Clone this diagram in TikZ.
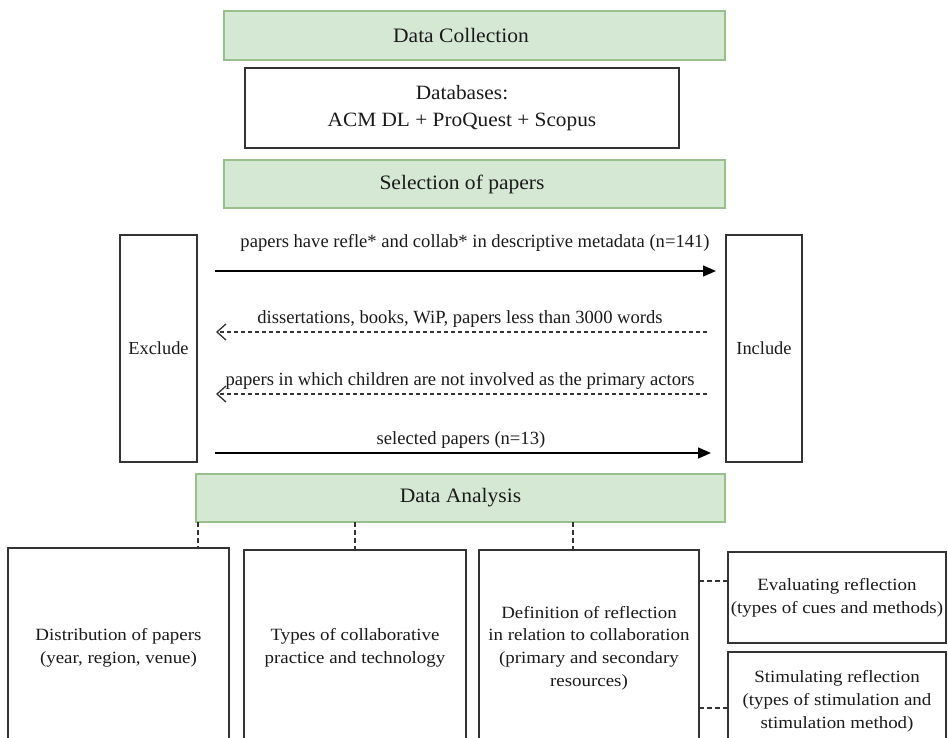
\documentclass[tikz,border=0pt]{standalone}
\usepackage{fontspec}
\setmainfont{Liberation Serif}
\newfontfamily\hdrfont[FakeStretch=1.05]{Liberation Serif}
\newfontfamily\wfont[FakeStretch=1.1]{Liberation Serif}
\usetikzlibrary{arrows.meta}
\definecolor{gfill}{HTML}{D5E8D4}
\definecolor{gline}{HTML}{98C08C}
\definecolor{bline}{HTML}{333333}
\definecolor{txt}{HTML}{1A1A1A}
\begin{document}
\begin{tikzpicture}[x=1pt,y=-1pt,
  hdr/.style={draw=gline, fill=gfill, line width=1.3pt, inner sep=0pt, outer sep=0pt,
    anchor=north west},
  hdrtxt/.style={text=txt, inner sep=0pt, font=\hdrfont\fontsize{20.5}{24}\selectfont},
  box/.style={draw=bline, line width=1.5pt, fill=white, inner sep=0pt, outer sep=0pt,
    anchor=north west, align=center, text=txt},
  lowtxt/.style={font=\wfont\fontsize{17.2}{22.8}\selectfont},
  lbl/.style={text=txt, inner sep=0pt, font=\fontsize{18.6}{22}\selectfont},
  solidarrow/.style={line width=1.4pt, -{Triangle[length=13pt,width=11pt]}},
  dasharrow/.style={line width=1.2pt, dash pattern=on 4pt off 3pt, bline,
    -{Straight Barb[length=9pt,width=16pt,line width=1.3pt]}},
  dl/.style={line width=1.3pt, bline, dash pattern=on 4.5pt off 3.5pt}]
\useasboundingbox (0,0) rectangle (948,738);
\clip (0,0) rectangle (948,738);

% headers
\node[hdr, minimum width=501pt, minimum height=49pt] (dc) at (224,11) {};
\node[hdrtxt] (dct) at (461,35.5) {Data Collection};
\node[box, minimum width=434pt, minimum height=80pt] (db) at (245,68)
  {\raisebox{-3pt}{\fontsize{20.3}{27}\selectfont\hdrfont\begin{tabular}{@{}c@{}}Databases:\\ACM DL + ProQuest + Scopus\end{tabular}}};
\node[hdr, minimum width=501pt, minimum height=48pt] (sel) at (224,160) {};
\node[hdrtxt] (selt) at (462,184) {Selection of papers};

% exclude / include
\node[box, minimum width=77pt, minimum height=227pt, font=\fontsize{18.4}{22}\selectfont] (ex) at (120,235) {Exclude};
\node[box, minimum width=76pt, minimum height=227pt, font=\fontsize{18.4}{22}\selectfont] (in) at (726,235) {Include};

\coordinate (a1s) at (215,271); \coordinate (a1e) at (716,271);
\coordinate (a2s) at (707,332); \coordinate (a2e) at (216,332);
\coordinate (a3s) at (707,394); \coordinate (a3e) at (216,394);
\coordinate (a4s) at (215,453); \coordinate (a4e) at (711,453);
\draw[solidarrow] (a1s) -- (a1e);
\draw[dasharrow] (a2s) -- (a2e);
\draw[dasharrow] (a3s) -- (a3e);
\draw[solidarrow] (a4s) -- (a4e);
\node[lbl] (l1) at (475,243) {papers have refle* and collab* in descriptive metadata (n=141)};
\node[lbl] (l2) at (460,319) {dissertations, books, WiP, papers less than 3000 words};
\node[lbl] (l3) at (460,381) {papers in which children are not involved as the primary actors};
\node[lbl] (l4) at (461,440) {selected papers (n=13)};

% data analysis
\node[hdr, minimum width=529pt, minimum height=48pt] (da) at (196,474) {};
\node[hdrtxt] (dat) at (460.5,498) {Data Analysis};

\node[box, lowtxt, minimum width=221pt, minimum height=200pt] (b1) at (8,548) {Distribution of papers\\(year, region, venue)};
\node[box, lowtxt, minimum width=222pt, minimum height=196pt] (b2) at (244,550) {Types of collaborative\\practice and technology};
\node[box, lowtxt, minimum width=220pt, minimum height=196pt] (b3) at (479,550) {Definition of reflection\\in relation to collaboration\\(primary and secondary\\resources)};
\node[box, lowtxt, minimum width=218pt, minimum height=91pt] (b4) at (728,552) {Evaluating reflection\\(types of cues and methods)};
\node[box, lowtxt, minimum width=218pt, minimum height=98pt] (b5) at (728,652) {Stimulating reflection\\(types of stimulation and\\stimulation method)};

\coordinate (v1) at (198,0); \coordinate (v2) at (355,0); \coordinate (v3) at (573,0);
\draw[dl] (da.south -| v1) -- (b1.north -| v1);
\draw[dl] (da.south -| v2) -- (b2.north -| v2);
\draw[dl] (da.south -| v3) -- (b3.north -| v3);
\coordinate (h1) at (0,581); \coordinate (h2) at (0,708);
\draw[dl] (b3.east |- h1) -- (b4.west |- h1);
\draw[dl] (b3.east |- h2) -- (b5.west |- h2);
\end{tikzpicture}
\end{document}
